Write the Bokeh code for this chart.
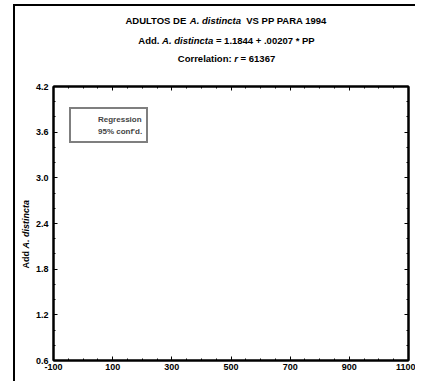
import math
from bokeh.plotting import figure
from bokeh.layouts import column, row
from bokeh.models import (Range1d, FixedTicker, LinearAxis, Legend, LegendItem)
from bokeh.core.properties import value
from bokeh.embed import file_html
from bokeh.resources import INLINE

# ---- data / text ----
x_ticks = [-100, 100, 300, 500, 700, 900, 1100]
x_minor = [-50, 0, 50, 150, 200, 250, 350, 400, 450, 550, 600, 650, 750, 800, 850, 950, 1000, 1050]
y_ticks = [0.6, 1.2, 1.8, 2.4, 3.0, 3.6, 4.2]
y_minor = [0.8, 1.0, 1.4, 1.6, 2.0, 2.2, 2.6, 2.8, 3.2, 3.4, 3.8, 4.0]
legend_labels = ["Regression", "95% conf'd."]
title1 = [("ADULTOS DE ", False), ("A. distincta", True), ("  VS PP PARA 1994", False)]
title2 = [("Add. ", False), ("A. distincta", True), (" = 1.1844 + .00207 * PP", False)]
title3 = [("Correlation: ", False), ("r", True), (" = 61367", False)]
y_label = [("Add  ", False), ("A. distincta", True)]

FONT = "Liberation Sans"

# approximate Arial/Liberation Sans Bold advance widths (per 1000 em) for text layout
W = {" ": 278, ".": 278, ":": 333, "=": 584, "+": 584, "*": 389, "-": 333, "'": 238, "%": 889}
W.update({c: 556 for c in "0123456789"})
W.update({"A": 722, "C": 722, "D": 722, "E": 667, "L": 611, "O": 778, "P": 667, "R": 722,
          "S": 667, "T": 611, "U": 722, "V": 667})
W.update({"a": 556, "c": 556, "d": 611, "e": 556, "g": 611, "i": 278, "l": 278, "n": 611,
          "o": 611, "r": 389, "s": 556, "t": 333, "f": 333})

def text_w(s, size):
    return sum(W.get(ch, 556) for ch in s) * size / 1000.0

def blank_fig(w, h):
    f = figure(width=w, height=h, output_backend="svg", toolbar_location=None,
               x_range=Range1d(0, w), y_range=Range1d(h, 0),
               x_axis_location=None, y_axis_location=None,
               min_border=0, min_border_left=0, min_border_right=0,
               min_border_top=0, min_border_bottom=0)
    f.grid.visible = False
    f.outline_line_color = None
    return f

def put(f, x, y, txt, italic, size, angle=0.0):
    f.text(x=[x], y=[y], text=[txt], text_font=value(FONT),
           text_font_style="bold italic" if italic else "bold",
           text_font_size=value(f"{size}px"), text_baseline="middle", text_align="left",
           angle=angle, text_color="black")

# ---- title block ----
TW, TH = 400, 64
tfig = blank_fig(TW, TH)
TS = 9.5

def add_line(cx, y, pieces, size):
    total = sum(text_w(t, size) for t, _ in pieces)
    x = cx - total / 2
    for t, it in pieces:
        lead = len(t) - len(t.lstrip(" "))
        put(tfig, x + text_w(" " * lead, size), y, t.strip(" "), it, size)
        x += text_w(t, size)

add_line(211, 14, title1, TS)
add_line(211, 34, title2, TS)
add_line(211, 52, title3, TS)

# ---- y label block ----
LW, LH = 17, 311
lfig = blank_fig(LW, LH)
ysz = 9
total = sum(text_w(t, ysz) for t, _ in y_label)
yy = 171 + total / 2
for t, it in y_label:
    put(lfig, 10, yy, t.strip(" "), it, ysz, angle=math.pi / 2)
    yy -= text_w(t, ysz)

# ---- main plot ----
p = figure(width=383, height=LH, output_backend="svg", toolbar_location=None,
           x_range=Range1d(x_ticks[0], x_ticks[-1]), y_range=Range1d(y_ticks[0], y_ticks[-1]),
           min_border_left=21, min_border_top=16, min_border_right=7, min_border_bottom=21)
p.grid.visible = False
p.outline_line_color = "black"
p.outline_line_width = 2

def style_axis(ax):
    ax.major_tick_in = 4
    ax.major_tick_out = 0
    ax.minor_tick_in = 2
    ax.minor_tick_out = 0
    ax.axis_line_color = "black"
    ax.axis_line_width = 2
    ax.major_label_text_font = FONT
    ax.major_label_text_font_style = "bold"
    ax.major_label_text_font_size = "9px"
    ax.major_label_text_color = "black"

p.xaxis.ticker = FixedTicker(ticks=x_ticks, minor_ticks=x_minor)
p.yaxis.ticker = FixedTicker(ticks=y_ticks, minor_ticks=y_minor)
style_axis(p.xaxis[0])
style_axis(p.yaxis[0])
p.xaxis.major_label_standoff = 3
p.yaxis.major_label_standoff = 5
p.xaxis.major_label_overrides = {t: str(t) for t in x_ticks}
p.yaxis.major_label_overrides = {t: f"{t:.1f}" for t in y_ticks}

top_ax = LinearAxis(ticker=FixedTicker(ticks=x_ticks, minor_ticks=x_minor))
right_ax = LinearAxis(ticker=FixedTicker(ticks=y_ticks, minor_ticks=y_minor))
for ax, ticks in ((top_ax, x_ticks), (right_ax, y_ticks)):
    style_axis(ax)
    ax.major_label_overrides = {t: "" for t in ticks}
    ax.major_label_standoff = 0
p.add_layout(top_ax, "above")
p.add_layout(right_ax, "right")

# ---- legend (no visible glyphs in reference) ----
r1 = p.line(x=[], y=[], line_color="black", line_alpha=0)
r2 = p.line(x=[], y=[], line_color="black", line_alpha=0, line_dash="4 2")
legend = Legend(items=[LegendItem(label=legend_labels[0], renderers=[r1]),
                       LegendItem(label=legend_labels[1], renderers=[r2])],
                location=(16, 217), glyph_width=15, glyph_height=12, label_standoff=8,
                padding=4, spacing=0, margin=0, label_height=12,
                label_text_font=FONT, label_text_font_style="bold", label_text_font_size="8px",
                border_line_color="black", border_line_width=2, background_fill_alpha=1)
p.add_layout(legend)

layout = column(tfig, row(lfig, p, spacing=0), spacing=0)
layout.margin = (4, 0, 0, 13)
layout.styles = {"border-left": "2px solid black", "border-top": "2px solid black"}

open("out.html", "w").write(file_html(layout, INLINE))
